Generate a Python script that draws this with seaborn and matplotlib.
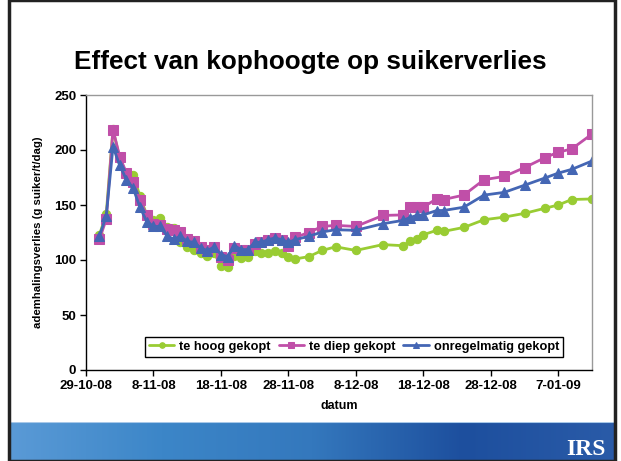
import numpy as np
import pandas as pd
import matplotlib
matplotlib.use("Agg")
import matplotlib.pyplot as plt
import matplotlib.dates as mdates
from matplotlib.colors import LinearSegmentedColormap
from matplotlib.patches import Rectangle
import seaborn as sns

# meetdata
datums = ["2008-10-31", "2008-11-01", "2008-11-02", "2008-11-03", "2008-11-04",
          "2008-11-05", "2008-11-06", "2008-11-07", "2008-11-08", "2008-11-09",
          "2008-11-10", "2008-11-11", "2008-11-12", "2008-11-13", "2008-11-14",
          "2008-11-15", "2008-11-16", "2008-11-17", "2008-11-18", "2008-11-19",
          "2008-11-20", "2008-11-21", "2008-11-22", "2008-11-23", "2008-11-24",
          "2008-11-25", "2008-11-26", "2008-11-27", "2008-11-28", "2008-11-29",
          "2008-12-01", "2008-12-03", "2008-12-05", "2008-12-08", "2008-12-12",
          "2008-12-15", "2008-12-16", "2008-12-17", "2008-12-18", "2008-12-20",
          "2008-12-21", "2008-12-24", "2008-12-27", "2008-12-30", "2009-01-02",
          "2009-01-05", "2009-01-07", "2009-01-09", "2009-01-12"]

te_hoog = [123, 142, 219, 192, 178, 177, 158, 141, 136, 138,
           130, 129, 116, 112, 109, 106, 104, 106, 95, 93.6,
           104, 102, 102.5, 108, 106, 106, 108.5, 106.4, 103, 101,
           103, 108.7, 112, 108.7, 114, 113, 117, 119.5, 123, 127,
           126, 129.6, 136.6, 139, 142.4, 147, 150, 155, 155.5]

te_diep = [119, 137, 218.5, 194, 179, 171, 155, 140.5, 133, 131.5,
           128, 127, 125.5, 119, 117.5, 112, 109, 112, 103, 100,
           111, 109.5, 109.5, 115, 116.6, 118, 120, 118.5, 112.4, 120.5,
           125, 130.5, 131.5, 130.5, 140.5, 141, 148, 148, 148, 155.8,
           155, 159, 173, 176, 184, 193, 198, 201, 214.5]

onregelmatig = [122, 140, 203, 186, 173, 165, 148, 135, 130.5, 130.5,
                122, 119, 121.5, 117, 116, 111, 108.5, 112, 105, 103,
                113, 109.5, 109.5, 116, 116, 118.5, 120, 118.5, 116, 118.5,
                121.5, 125.5, 127.5, 127, 133, 136, 138.5, 140.5, 141, 145,
                145, 148, 159, 161.5, 168, 174.5, 179, 182.4, 190]

reeksen = ["te hoog gekopt", "te diep gekopt", "onregelmatig gekopt"]
kleuren = ["#99cc33", "#c04fa8", "#4466b4"]
markers = ["o", "s", "^"]

df = pd.DataFrame({"datum": pd.to_datetime(datums),
                   reeksen[0]: te_hoog,
                   reeksen[1]: te_diep,
                   reeksen[2]: onregelmatig})

sns.set_style("white")
plt.rcParams["font.family"] = ["Liberation Sans", "DejaVu Sans"]
plt.rcParams.update({"text.color": "black", "axes.labelcolor": "black",
                     "xtick.color": "black", "ytick.color": "black"})

fig = plt.figure(figsize=(6.21, 4.61), dpi=100)
ax = fig.add_axes([86 / 621, 1 - 370 / 461, (592 - 86) / 621, (370 - 95) / 461])

for naam, kleur, m in zip(reeksen, kleuren, markers):
    ms = 6 if m == "o" else 6.5
    sns.lineplot(data=df, x="datum", y=naam, ax=ax, color=kleur, marker=m,
                 markersize=ms, markeredgecolor=kleur, linewidth=2, label=naam)

start = pd.Timestamp("2008-10-29")
ax.set_xlim(start, pd.Timestamp("2009-01-12"))
ax.set_ylim(0, 250)
ax.set_yticks(np.arange(0, 251, 50))
ax.set_xticks(pd.date_range(start, periods=8, freq="10D"))
ax.xaxis.set_major_formatter(plt.FuncFormatter(
    lambda v, p: (lambda d: f"{d.day}-{d:%m-%y}")(mdates.num2date(v))))

ax.tick_params(axis="both", labelsize=9.5, length=4, width=1, direction="out",
               bottom=True, left=True, pad=3)
for lab in ax.get_xticklabels() + ax.get_yticklabels():
    lab.set_fontweight("bold")
ax.set_xlabel("datum", fontsize=9, fontweight="bold", labelpad=6)
ax.set_ylabel("ademhalingsverlies (g suiker/t/dag)", fontsize=8.2,
              fontweight="bold", labelpad=8)

for kant in ["left", "bottom"]:
    ax.spines[kant].set_color("black")
    ax.spines[kant].set_linewidth(1)
for kant in ["top", "right"]:
    ax.spines[kant].set_color("#999999")
    ax.spines[kant].set_linewidth(1)

leg = ax.legend(loc="lower center", bbox_to_anchor=(0.53, 0.025), ncol=3,
                frameon=True, fancybox=False, framealpha=1, edgecolor="black",
                prop={"size": 9.2, "weight": "bold"}, handlelength=2.0,
                handletextpad=0.4, columnspacing=0.6, borderpad=0.3)
leg.get_frame().set_linewidth(1)
for h in leg.legend_handles:
    h.set_markersize(4)

fig.text(0.5, 1 - 62 / 461, "Effect van kophoogte op suikerverlies",
         ha="center", va="center", fontsize=18.8, fontweight="bold",
         color="black")

# blauwe band onderaan
band = fig.add_axes([10 / 621, 0, 605 / 621, 39 / 461])
cmap = LinearSegmentedColormap.from_list(
    "band", ["#5a9ad6", "#3c86c8", "#3478bd", "#1d4f9e", "#2a5ba8"])
grad = np.linspace(0, 1, 256).reshape(1, -1)
band.imshow(grad, aspect="auto", cmap=cmap, extent=[0, 1, 0, 1])
band.axhline(1, color="#a8c8e8", linewidth=1.5)
band.text(0.985, 0.3, "IRS", ha="right", va="center", fontsize=17,
          family="Liberation Serif", color="white", fontweight="bold")
band.set_axis_off()

# rand van de dia
fig.patches.append(Rectangle((9 / 621, 0), 606 / 621, 1, transform=fig.transFigure,
                             fill=False, edgecolor="#222222", linewidth=2.5))

fig.savefig("out.png", dpi=100)
